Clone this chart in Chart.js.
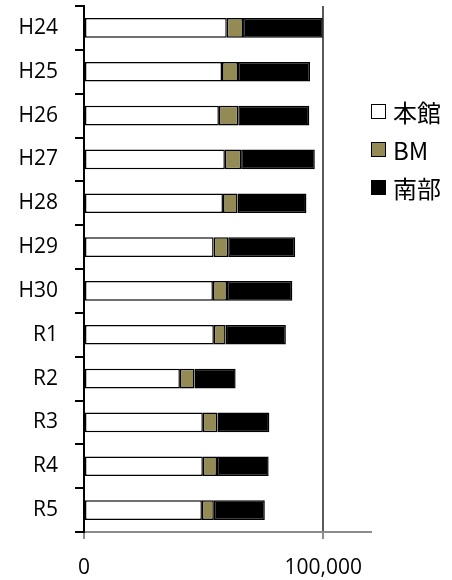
<!DOCTYPE html>
<html>
<head>
<meta charset="utf-8">
<script src="https://cdn.jsdelivr.net/npm/chart.js@4/dist/chart.umd.min.js"></script>
<style>
  body { margin: 0; background: #fff; }
  #wrap { position: relative; width: 452px; height: 580px; }
  #legend { position: absolute; left: 371px; top: 92px; font-family: "Noto Sans CJK JP", "Open Sans", sans-serif; font-size: 24px; color: #000; }
  #legend div { display: flex; align-items: center; height: 38px; }
  #legend span.box { display: inline-block; width: 13px; height: 13px; border: 1.5px solid #000; margin-right: 7px; }
</style>
</head>
<body>
<div id="wrap">
  <canvas id="chart" width="452" height="580"></canvas>
  <div id="legend"></div>
</div>
<script>
// 年度
const categories = ['H24', 'H25', 'H26', 'H27', 'H28', 'H29', 'H30', 'R1', 'R2', 'R3', 'R4', 'R5'];
// 本館 / BM / 南部
const honkan = [59700, 57700, 56400, 58900, 58100, 54200, 53900, 54300, 40100, 49700, 49700, 49300];
const bm = [6800, 6700, 8100, 6800, 6100, 6100, 5900, 4900, 6100, 6100, 5900, 5000];
const nanbu = [33300, 30100, 29700, 30800, 28800, 28000, 27300, 25200, 17200, 21700, 21600, 21300];
const seriesNames = ['本館', 'BM', '南部'];
const seriesColors = ['#ffffff', '#948a54', '#000000'];
const xTicks = [0, 100000];

const tickFont = { family: '"Open Sans", sans-serif', size: 21 };

const datasets = [honkan, bm, nanbu].map((d, i) => ({
  label: seriesNames[i],
  data: d,
  backgroundColor: seriesColors[i],
  borderColor: '#000',
  borderWidth: 1.5,
  borderSkipped: false,
  barPercentage: 0.45,
  categoryPercentage: 1
}));

new Chart(document.getElementById('chart'), {
  type: 'bar',
  data: { labels: categories, datasets: datasets },
  options: {
    indexAxis: 'y',
    responsive: false,
    animation: false,
    layout: { padding: { top: 6, right: 81, left: 0, bottom: 0 } },
    plugins: {
      legend: { display: false },
      tooltip: { enabled: false }
    },
    scales: {
      x: {
        type: 'linear',
        stacked: true,
        min: 0,
        max: 120000,
        afterBuildTicks: scale => { scale.ticks = xTicks.map(v => ({ value: v })); },
        afterFit: scale => { scale.height = 48; },
        grid: {
          color: ctx => (ctx.tick && ctx.tick.value === 100000) ? '#5a5a5a' : 'rgba(0,0,0,0)',
          lineWidth: 2,
          drawTicks: true,
          tickLength: 7,
          tickColor: '#8c8c8c'
        },
        border: { color: '#8c8c8c', width: 2 },
        ticks: {
          color: '#000',
          font: tickFont,
          padding: 16,
          maxRotation: 0,
          callback: v => v.toLocaleString('en-US')
        }
      },
      y: {
        stacked: true,
        afterFit: scale => {
          scale.width = 84;
          scale.paddingTop = 0;
          scale.paddingBottom = 0;
        },
        grid: {
          drawOnChartArea: false,
          drawTicks: true,
          tickLength: 9,
          color: '#000',
          lineWidth: 2,
          offset: true
        },
        border: { color: '#000', width: 2 },
        ticks: { color: '#000', font: tickFont, padding: 17 }
      }
    }
  }
});

// 凡例
const legend = document.getElementById('legend');
seriesNames.forEach((name, i) => {
  const row = document.createElement('div');
  const box = document.createElement('span');
  box.className = 'box';
  box.style.background = seriesColors[i];
  row.appendChild(box);
  row.appendChild(document.createTextNode(name));
  legend.appendChild(row);
});
</script>
</body>
</html>
